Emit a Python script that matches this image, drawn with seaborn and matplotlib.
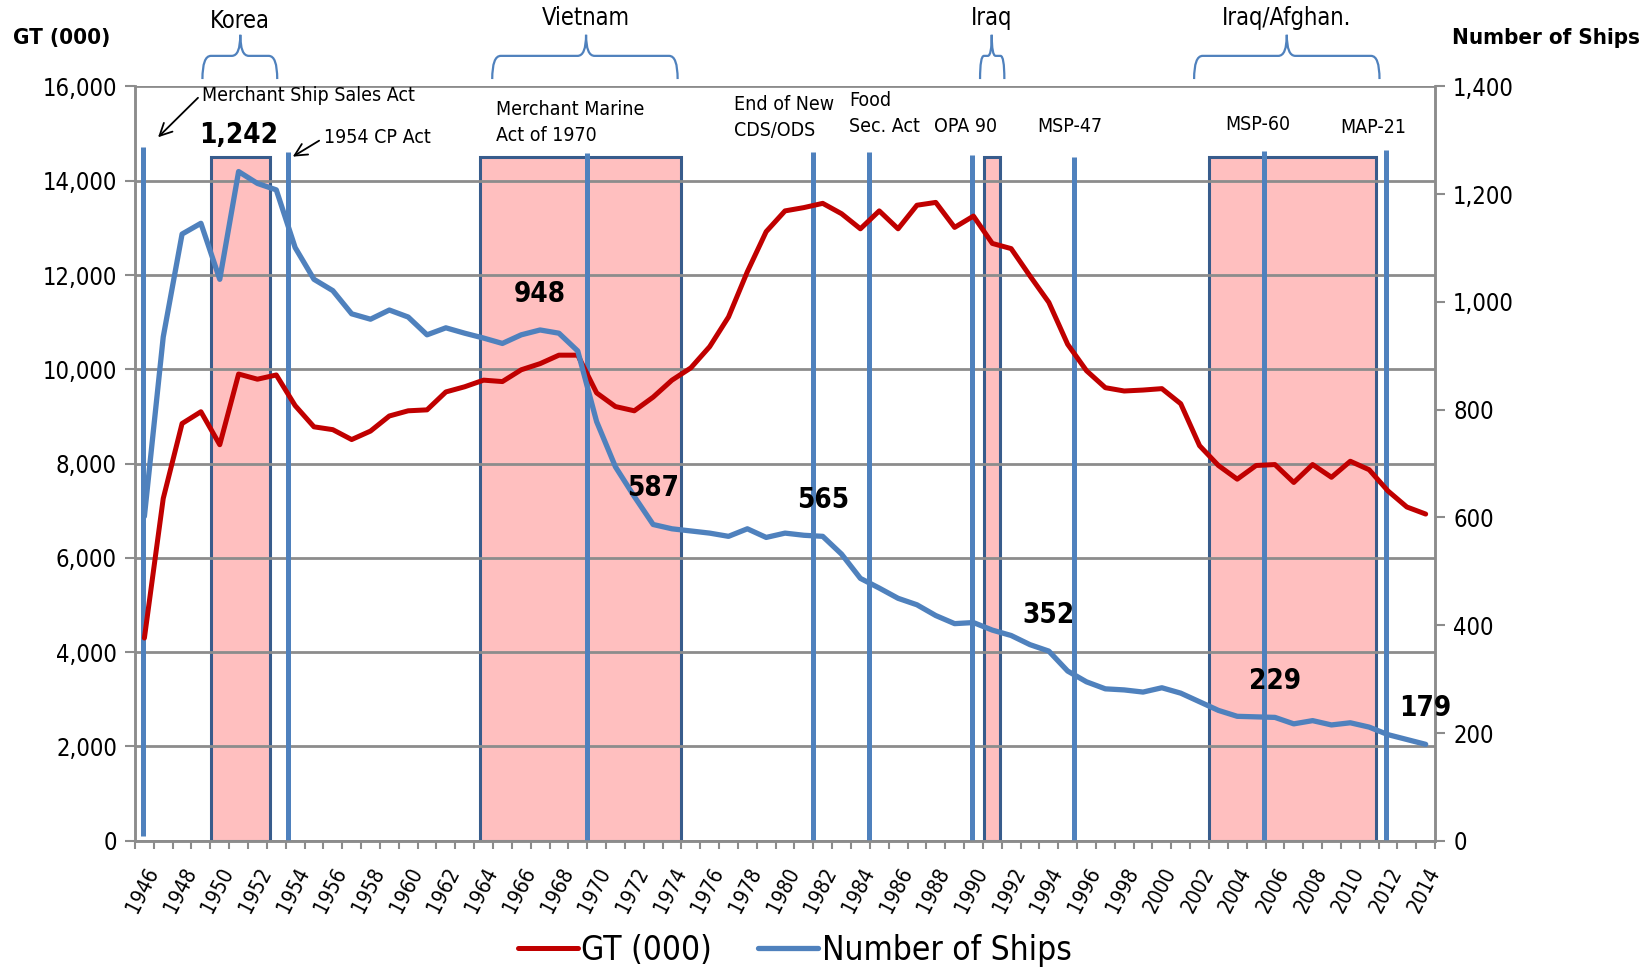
import numpy as np
import pandas as pd
import matplotlib
matplotlib.use("Agg")
import matplotlib.pyplot as plt
import seaborn as sns
from matplotlib import font_manager
from matplotlib.patches import Rectangle, PathPatch
from matplotlib.path import Path

# ---------------- data ----------------
years = list(range(1946, 2015))
gt = [4300, 7260, 8850, 9100, 8400, 9900, 9790, 9880, 9230, 8780,
      8720, 8510, 8690, 9010, 9120, 9140, 9520, 9630, 9770, 9740,
      9990, 10120, 10300, 10300, 9500, 9210, 9120, 9410, 9770, 10030,
      10480, 11110, 12070, 12920, 13360, 13430, 13520, 13300, 12980, 13360,
      12980, 13480, 13540, 13010, 13250, 12670, 12560, 11980, 11420, 10530,
      9970, 9610, 9540, 9560, 9590, 9270, 8380, 7960, 7670, 7960,
      7980, 7600, 7980, 7710, 8050, 7870, 7420, 7080, 6930]
ships = [602, 935, 1126, 1146, 1042, 1242, 1220, 1208, 1101, 1042,
         1021, 978, 968, 985, 972, 939, 952, 942, 933, 923,
         939, 948, 942, 909, 778, 694, 639, 587, 579, 575,
         571, 565, 579, 563, 571, 567, 565, 532, 487, 469,
         450, 438, 418, 403, 405, 391, 381, 364, 352, 315,
         295, 282, 280, 276, 284, 274, 258, 242, 231, 230,
         229, 217, 223, 215, 219, 211, 197, 188, 179]
label_years = [1951, 1967, 1973, 1982, 1994, 2006, 2014]

war_names = ["Korea", "Vietnam", "Iraq", "Iraq/Afghan."]
war_start = [1949.53, 1963.79, 1990.58, 2002.49]
war_end = [1952.67, 1974.47, 1991.42, 2011.38]
war_top = 14500
brace_left = [1949.08, 1964.46, 1990.35, 2001.71]
brace_right = [1953.05, 1974.30, 1991.64, 2011.55]
brace_mid = [1951.09, 1969.44, 1990.97, 2006.63]

law_names = ["Merchant Ship Sales Act", "1954 CP Act", "Merchant Marine\nAct of 1970",
             "End of New\nCDS/ODS", "Food\nSec. Act", "OPA 90", "MSP-47", "MSP-60", "MAP-21"]
law_x = [1945.95, 1953.61, 1969.49, 1981.5, 1984.48, 1989.9, 1995.33, 2005.4, 2011.9]
law_bottom = [110, 0, 0, 0, 0, 0, 0, 0, 0]
law_top = [14720, 14600, 14580, 14600, 14600, 14550, 14500, 14620, 14650]

gt_ticks = list(range(0, 16001, 2000))
ship_ticks = list(range(0, 1401, 200))

# ---------------- style ----------------
sns.set_theme(style="white")
names = {f.name for f in font_manager.fontManager.ttflist}
if "Liberation Sans Narrow" in names:
    FONT = "Liberation Sans Narrow"
    STRETCH = "normal"
else:
    FONT = "DejaVu Sans"
    STRETCH = "condensed"
plt.rcParams["font.family"] = [FONT, "DejaVu Sans"]
plt.rcParams["font.stretch"] = STRETCH
for k in ("text.color", "axes.labelcolor", "xtick.labelcolor", "ytick.labelcolor"):
    plt.rcParams[k] = "black"

RED = "#C00000"
BLUE = "#4F81BD"
GRID = "#8C8C8C"
PINK = "#FFBFBF"
EDGE = "#385C8C"

df = pd.DataFrame({"idx": np.arange(len(years)), "year": years, "gt": gt, "ships": ships})
x0 = years[0]

fig = plt.figure(figsize=(16.52, 9.71), dpi=100)
ax = fig.add_axes([0.0817, 0.1341, 0.7870, 0.7769])
ax2 = ax.twinx()

# war rectangles
for s, e in zip(war_start, war_end):
    ax.add_patch(Rectangle((s - x0, 0), e - s, war_top, facecolor=PINK,
                           edgecolor=EDGE, lw=2.2, zorder=1))

# grid
ax.set_axisbelow(False)
ax.yaxis.grid(True, color=GRID, lw=2, zorder=2)
ax.xaxis.grid(False)

# legislation lines
ax.vlines([v - x0 for v in law_x], law_bottom, law_top, colors=BLUE, lw=3.6, zorder=4)

# series
sns.lineplot(data=df, x="idx", y="gt", ax=ax, color=RED, lw=3.6, zorder=5, label="GT (000)", legend=False)
sns.lineplot(data=df, x="idx", y="ships", ax=ax2, color=BLUE, lw=3.8, zorder=5, label="Number of Ships", legend=False)

ax.set_xlim(-0.5, len(years) - 0.5)
ax.set_ylim(0, 16000)
ax2.set_ylim(0, 1400)
ax.set_xlabel("")
ax.set_ylabel("")
ax2.set_ylabel("")

ax.set_yticks(gt_ticks)
ax.set_yticklabels([f"{v:,}" for v in gt_ticks], fontsize=17, color="black")
ax2.set_yticks(ship_ticks)
ax2.set_yticklabels([f"{v:,}" for v in ship_ticks], fontsize=17, color="black")
ax.tick_params(axis="y", length=7, width=1.5, color=GRID, pad=6, left=True)
ax2.tick_params(axis="y", length=7, width=1.5, color=GRID, pad=6, right=True)

major = list(range(0, len(years), 2))
ax.set_xticks(major)
ax.set_xticklabels([str(years[i]) for i in major], fontsize=15, rotation=63, color="black",
                   ha="right", va="top", rotation_mode="anchor")
ax.set_xticks(np.arange(-0.5, len(years), 1.0), minor=True)
ax.tick_params(axis="x", which="major", length=0, pad=17)
ax.tick_params(axis="x", which="minor", length=6, width=1.5, color=GRID, bottom=True)

for a in (ax, ax2):
    a.spines["top"].set_visible(False)
    for sp in ("left", "right", "bottom"):
        a.spines[sp].set_color(GRID)
        a.spines[sp].set_linewidth(1.8)

# data labels
for yv in label_years:
    i = years.index(yv)
    ax2.annotate(f"{ships[i]:,}", xy=(i, ships[i]), xytext=(0, 26), textcoords="offset points",
                 ha="center", va="center", fontsize=20, fontweight="bold", color="black", zorder=7)

# braces and war names
def brace(a, xl, xr, xm, yb=16156, yh=16648, yt=17095, color=BLUE):
    d = min(0.45, (xm - xl) / 3.0)
    verts = [(xl, yb), (xl, yh), (xl + d, yh), (xm - d, yh), (xm, yh), (xm, yt),
             (xm, yh), (xm + d, yh), (xr - d, yh), (xr, yh), (xr, yb)]
    codes = [Path.MOVETO, Path.CURVE3, Path.CURVE3, Path.LINETO, Path.CURVE3, Path.CURVE3,
             Path.CURVE3, Path.CURVE3, Path.LINETO, Path.CURVE3, Path.CURVE3]
    a.add_patch(PathPatch(Path(verts, codes), fill=False, edgecolor=color, lw=1.6, clip_on=False))

war_label_y = [17380, 17450, 17450, 17450]
for nm, bl, br, bm, wy in zip(war_names, brace_left, brace_right, brace_mid, war_label_y):
    brace(ax, bl - x0, br - x0, bm - x0)
    ax.text(bm - x0, wy, nm, ha="center", va="center", fontsize=17, clip_on=False)

# legislation labels
law_label_x = [3.08, 9.51, 18.68, 31.27, 37.42, 41.89, 47.37, 57.38, 63.48]
law_label_y = [15800, 14927, 15240, 15340, 15420, 15151, 15151, 15195, 15128]
for nm, lx, ly in zip(law_names, law_label_x, law_label_y):
    ax.text(lx, ly, nm, ha="left", va="center", fontsize=14, linespacing=1.45, zorder=7)

ax.annotate("", xy=(0.62, 14880), xytext=(2.95, 15800),
            arrowprops=dict(arrowstyle="->", lw=1.3, color="black", mutation_scale=22))
ax.annotate("", xy=(7.75, 14480), xytext=(9.4, 14880),
            arrowprops=dict(arrowstyle="->", lw=1.3, color="black", mutation_scale=22))

# axis titles
fig.text(0.0076, 0.961, "GT (000)", fontsize=16, fontweight="bold", ha="left", va="center")
fig.text(0.879, 0.961, "Number of Ships", fontsize=16, fontweight="bold", ha="left", va="center")

# legend
h1 = ax.get_lines()[0]
h2 = ax2.get_lines()[0]
fig.legend([h1, h2], ["GT (000)", "Number of Ships"], loc="center", bbox_to_anchor=(0.481, 0.021),
           ncol=2, frameon=False, fontsize=24, handlelength=1.8, handletextpad=0.1, columnspacing=1.4)

fig.savefig("out.png", dpi=100)
